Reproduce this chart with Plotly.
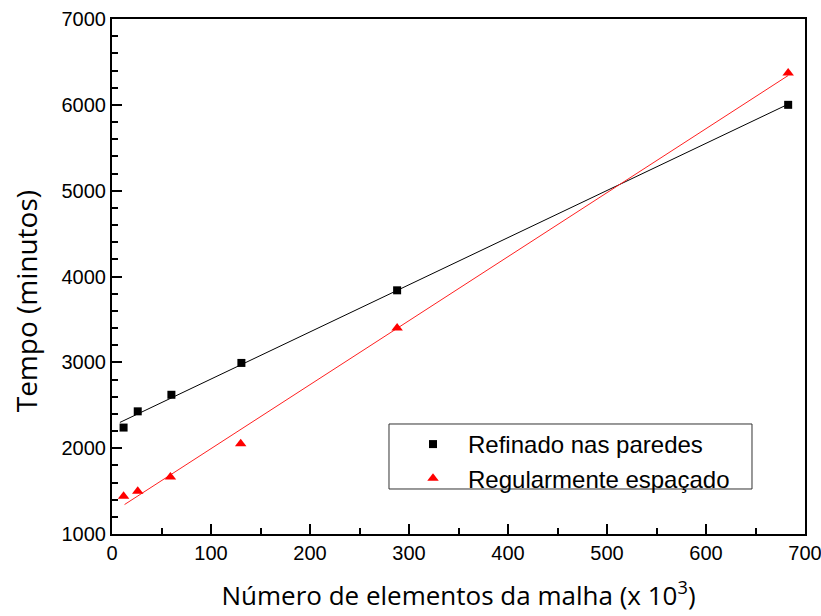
import numpy as np
import plotly.graph_objects as go

# Mesh size (thousands of elements) and run time (minutes)
x_refinado = [11.7, 26, 60, 130.7, 288, 683]
y_refinado = [2240, 2429, 2622, 2993, 3839, 6000]
x_regular = [11.7, 26, 59, 130, 288, 683]
y_regular = [1440, 1498, 1664, 2051, 3399, 6370]

# Span of each linear fit line
fit_span_refinado = [8, 683]
fit_span_regular = [12.7, 683]

name_refinado = "Refinado nas paredes"
name_regular = "Regularmente espaçado"


def linear_fit(xs, ys, span):
    slope, intercept = np.polyfit(xs, ys, 1)
    xf = np.array(span, dtype=float)
    return xf, slope * xf + intercept


fig = go.Figure()

xf, yf = linear_fit(x_refinado, y_refinado, fit_span_refinado)
fig.add_trace(go.Scatter(x=xf, y=yf, mode="lines", line=dict(color="black", width=1),
                         showlegend=False, hoverinfo="skip"))
xf, yf = linear_fit(x_regular, y_regular, fit_span_regular)
fig.add_trace(go.Scatter(x=xf, y=yf, mode="lines", line=dict(color="#ff2020", width=1),
                         showlegend=False, hoverinfo="skip"))

fig.add_trace(go.Scatter(x=x_refinado, y=y_refinado, mode="markers", name=name_refinado,
                         marker=dict(symbol="square", size=8, color="black")))
fig.add_trace(go.Scatter(x=x_regular, y=y_regular, mode="markers", name=name_regular,
                         marker=dict(symbol="triangle-up", size=10, color="#ff0000")))

axis_common = dict(
    showgrid=False, zeroline=False, automargin=False, ticklabeloverflow="allow",
    showline=True, linecolor="black", linewidth=2, mirror=True,
    ticks="inside", ticklen=10, tickwidth=2, tickcolor="black",
    tickfont=dict(family="Liberation Sans, Arial", size=20, color="black"),
)

fig.update_xaxes(
    range=[0, 700], dtick=100, tick0=0,
    minor=dict(ticks="inside", ticklen=6, tickwidth=2, tickcolor="black", dtick=50),
    title=dict(text="Número de elementos da malha (x 10<sup>3</sup>)",
               font=dict(family="Open Sans", size=26, color="black"), standoff=24),
    **axis_common,
)
fig.update_yaxes(
    range=[1000, 7000], dtick=1000, tick0=0,
    minor=dict(ticks="inside", ticklen=6, tickwidth=2, tickcolor="black", dtick=200),
    **axis_common,
)

# Vertical axis title
fig.add_annotation(
    text="Tempo (minutos)", textangle=-90,
    xref="paper", yref="paper", x=-0.124, y=0.452,
    xanchor="center", yanchor="middle", showarrow=False,
    font=dict(family="Open Sans", size=28, color="black"),
)

# Frame around the legend
fig.add_shape(
    type="rect", xref="paper", yref="paper",
    x0=0.3997, x1=0.9235, y0=0.0874, y1=0.2136,
    line=dict(color="#333333", width=1), fillcolor="rgba(0,0,0,0)",
)

fig.update_layout(
    width=821, height=616,
    margin=dict(l=112, r=16, t=19, b=82),
    plot_bgcolor="white", paper_bgcolor="white",
    legend=dict(
        x=0.4127, y=0.2175, xanchor="left", yanchor="top",
        borderwidth=0, bgcolor="rgba(0,0,0,0)",
        font=dict(family="Liberation Sans, Arial", size=24, color="black"),
        itemwidth=60, tracegroupgap=0,
    ),
)

fig.write_html("out.html")
